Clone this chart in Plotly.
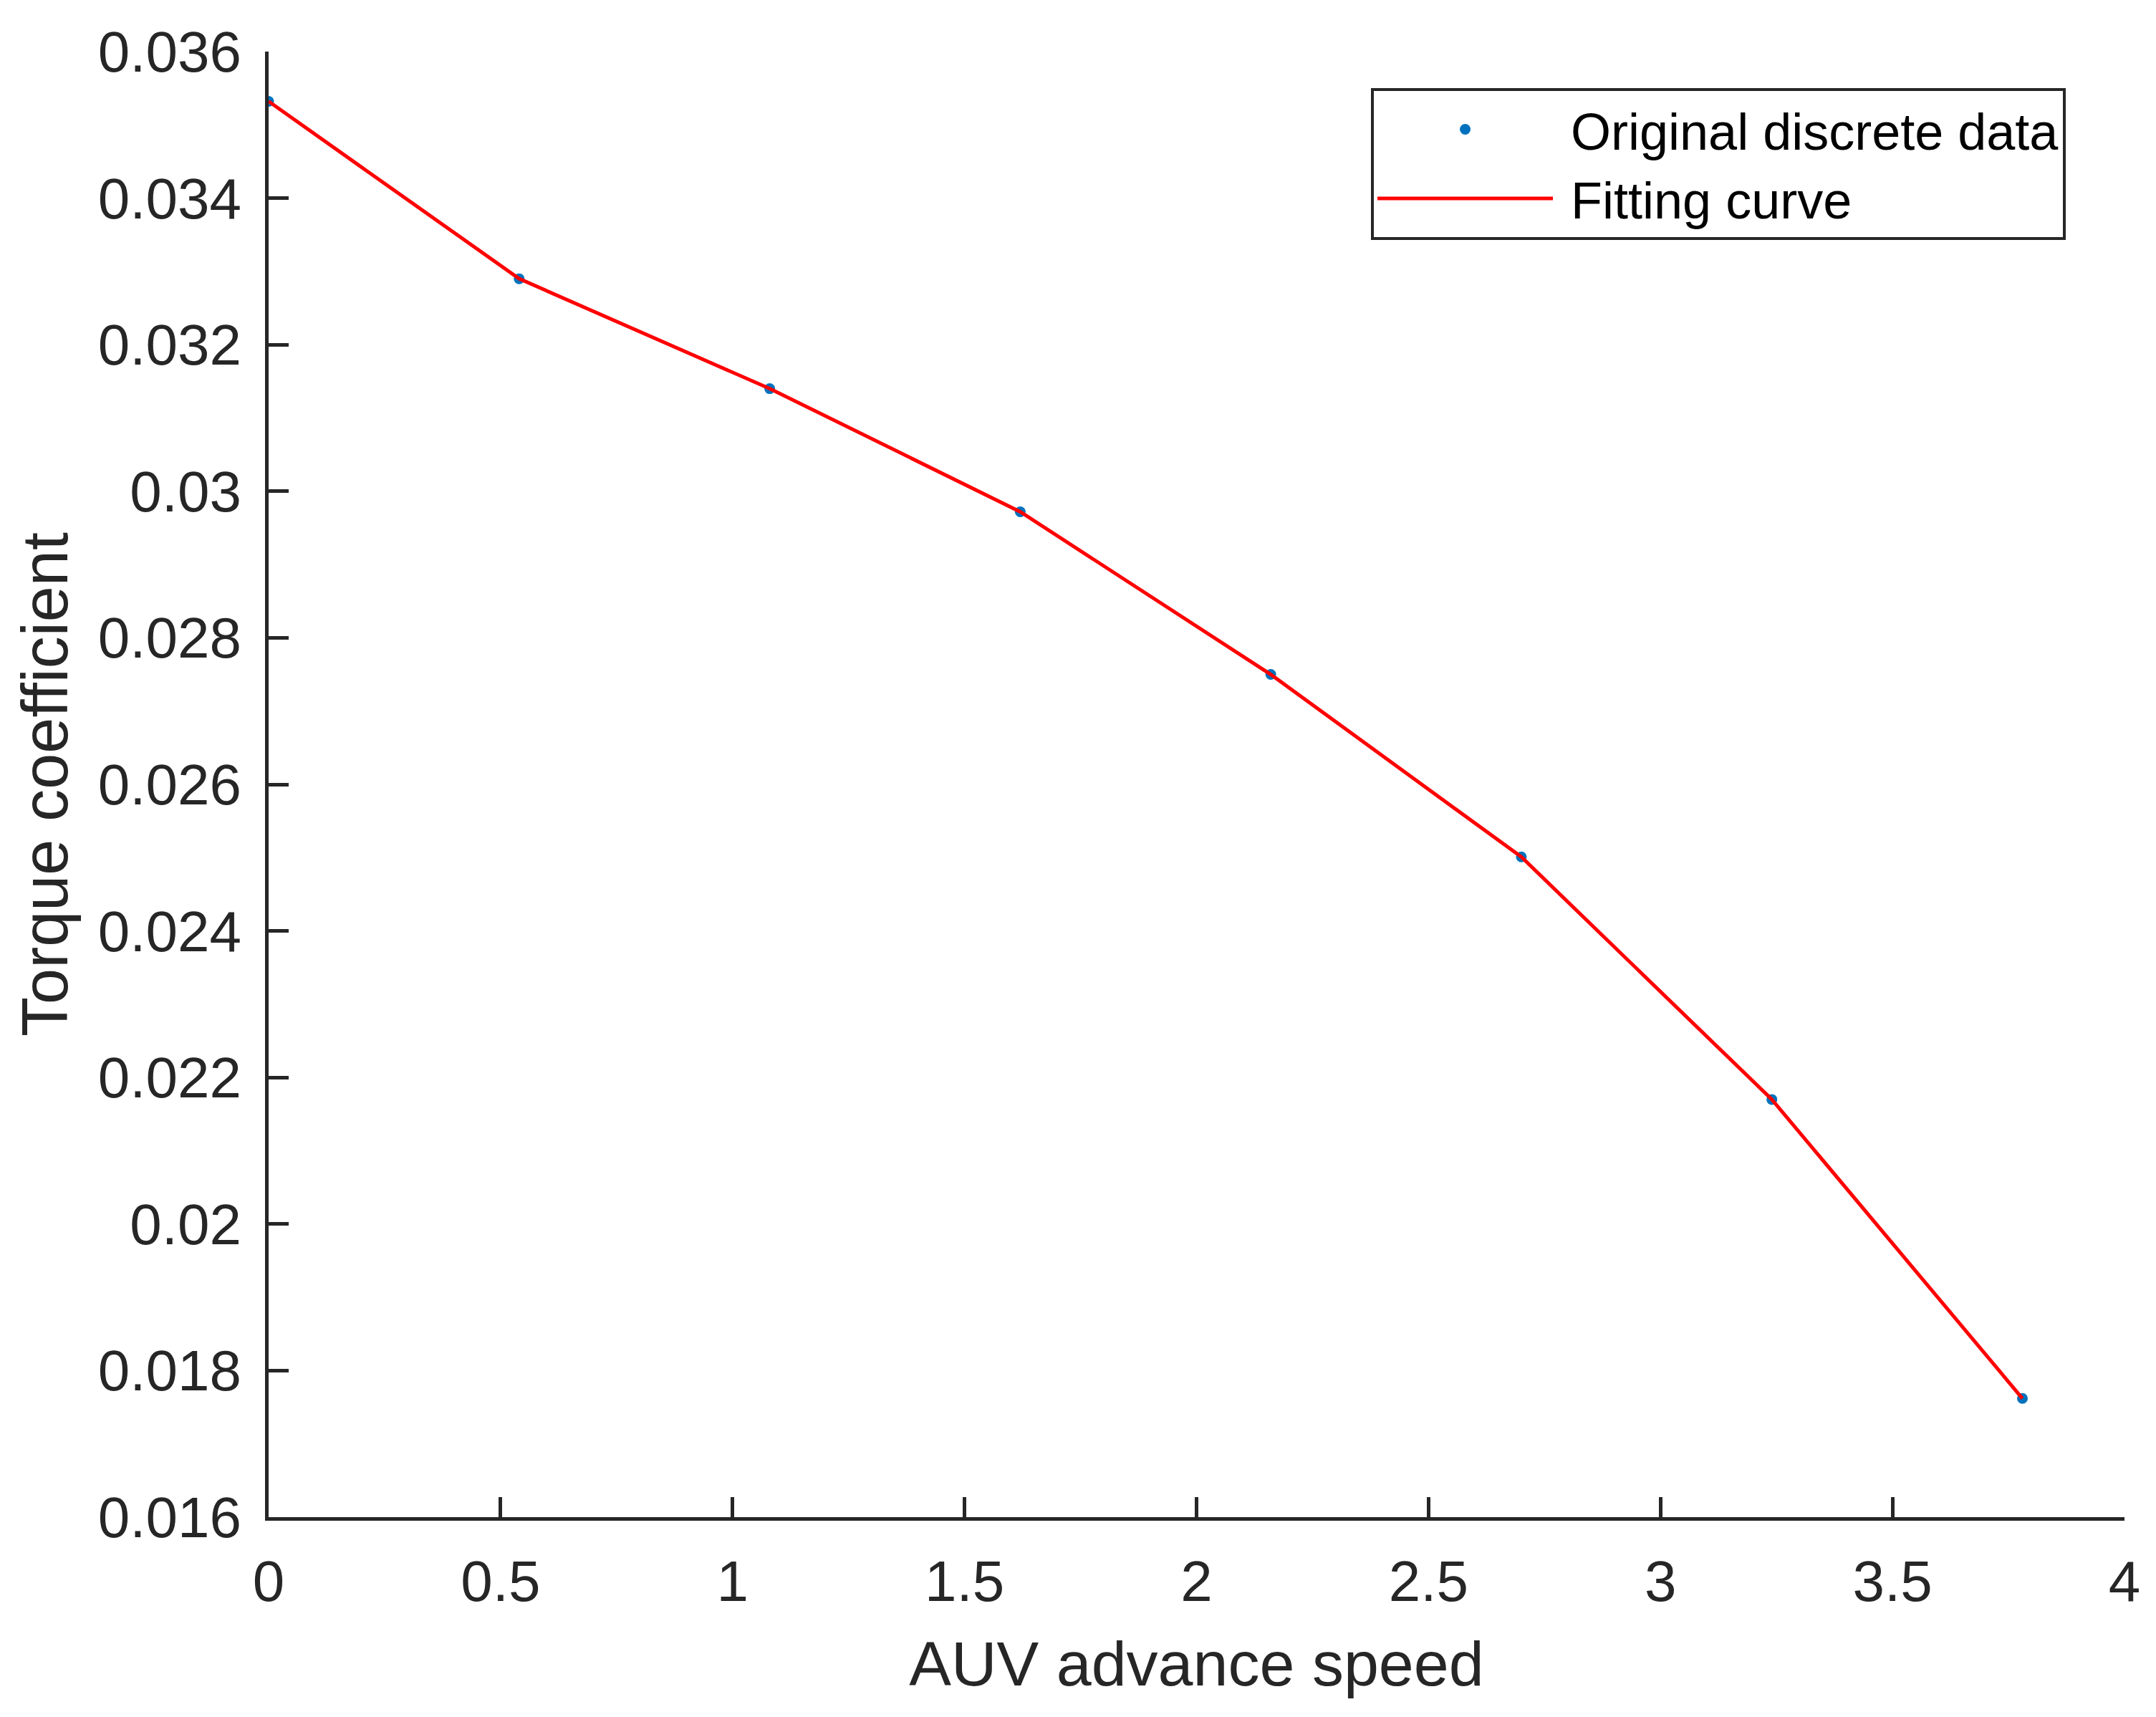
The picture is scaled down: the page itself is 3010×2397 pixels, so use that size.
import plotly.graph_objects as go

speed = [0.0, 0.54, 1.08, 1.62, 2.16, 2.70, 3.24, 3.78]
torque = [0.03532, 0.03290, 0.03140, 0.02972, 0.02750, 0.02501, 0.02170, 0.01762]
x_ticks = [0, 0.5, 1, 1.5, 2, 2.5, 3, 3.5, 4]
x_tick_text = ["0", "0.5", "1", "1.5", "2", "2.5", "3", "3.5", "4"]
y_ticks = [0.016, 0.018, 0.020, 0.022, 0.024, 0.026, 0.028, 0.030, 0.032, 0.034, 0.036]
y_tick_text = ["0.016", "0.018", "0.02", "0.022", "0.024", "0.026", "0.028", "0.03", "0.032", "0.034", "0.036"]
series_names = ["\u00a0Original discrete data", "\u00a0Fitting curve"]

AX = "#262626"
FONT = "Liberation Sans, Arial, sans-serif"

fig = go.Figure()
fig.add_trace(go.Scatter(
    x=speed, y=torque, mode="markers", name=series_names[0],
    marker=dict(color="#0072BD", size=15, line=dict(width=0)),
))
fig.add_trace(go.Scatter(
    x=speed, y=torque, mode="lines", name=series_names[1],
    line=dict(color="#FF0000", width=5),
))

axis_common = dict(
    showgrid=False, zeroline=False, showline=True, linecolor=AX, linewidth=5,
    ticks="inside", ticklen=28, tickwidth=5, tickcolor=AX, mirror=False,
    tickfont=dict(family=FONT, size=80, color=AX),
)

fig.update_layout(
    width=3010, height=2397,
    margin=dict(l=367, r=52, t=64, b=287),
    paper_bgcolor="white", plot_bgcolor="white",
    font=dict(family=FONT, color=AX),
    xaxis=dict(
        range=[0, 4], tickvals=x_ticks, ticktext=x_tick_text,
        ticklabelstandoff=16,
        title=dict(text="AUV advance speed", font=dict(family=FONT, size=88, color=AX), standoff=42),
        **axis_common,
    ),
    yaxis=dict(
        range=[0.016, 0.036], tickvals=y_ticks, ticktext=y_tick_text,
        ticklabelstandoff=17,
        title=dict(text="Torque coefficient", font=dict(family=FONT, size=90, color=AX), standoff=14),
        **axis_common,
    ),
    legend=dict(
        x=0.594, y=0.975, xanchor="left", yanchor="top",
        bgcolor="white", bordercolor=AX, borderwidth=4,
        font=dict(family=FONT, size=72, color="black"),
        itemwidth=245, tracegroupgap=0,
    ),
    showlegend=True,
)

fig.write_html("out.html")
